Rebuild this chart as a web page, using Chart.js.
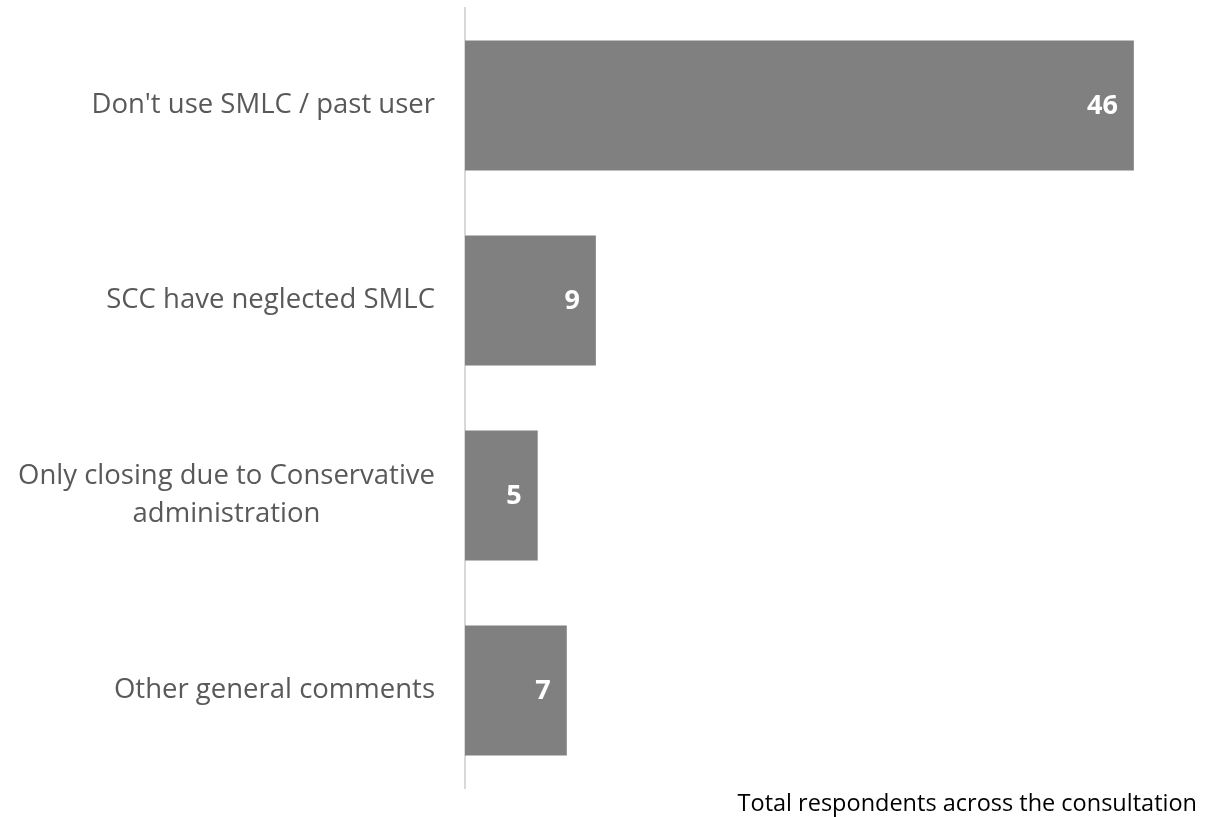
<!DOCTYPE html>
<html>
<head>
    <title>Respondent comments</title>
    <script src="https://cdn.jsdelivr.net/npm/chart.js"></script>
    <style>
        html, body { margin: 0; padding: 0; background: #fff; }
        #wrap { width: 1217px; height: 817px; position: relative; }
    </style>
</head>
<body>
    <div id="wrap"><canvas id="myChart"></canvas></div>
    <script>
        // data
        const categories = [
            "Don't use SMLC / past user",
            'SCC have neglected SMLC',
            ['Only closing due to Conservative', 'administration'],
            'Other general comments'
        ];
        const counts = [46, 9, 5, 7];
        const footTitle = 'Total respondents across the consultation';

        const fontFamily = "'Open Sans', 'Noto Sans', sans-serif";

        // category labels: block right-aligned to the axis, lines centred inside the block
        const catLabels = {
            id: 'catLabels',
            afterDraw(chart) {
                const ctx = chart.ctx;
                const yScale = chart.scales.y;
                const rightEdge = yScale.right - 30;
                const lineH = 38;
                ctx.save();
                ctx.fillStyle = '#595959';
                ctx.font = '27.5px ' + fontFamily;
                ctx.textAlign = 'center';
                ctx.textBaseline = 'middle';
                categories.forEach((label, i) => {
                    const lines = Array.isArray(label) ? label : [label];
                    const w = Math.max(...lines.map(l => ctx.measureText(l).width));
                    const cx = rightEdge - w / 2;
                    const cy = yScale.getPixelForTick(i);
                    lines.forEach((l, j) => {
                        ctx.fillText(l, cx, cy + (j - (lines.length - 1) / 2) * lineH);
                    });
                });
                ctx.restore();
            }
        };

        // white numbers inside the end of each bar
        const barLabels = {
            id: 'barLabels',
            afterDatasetsDraw(chart) {
                const ctx = chart.ctx;
                const meta = chart.getDatasetMeta(0);
                ctx.save();
                ctx.fillStyle = '#ffffff';
                ctx.font = 'bold 27px ' + fontFamily;
                ctx.textAlign = 'right';
                ctx.textBaseline = 'middle';
                meta.data.forEach((bar, i) => {
                    ctx.fillText(String(counts[i]), bar.x - 16, bar.y + 1);
                });
                ctx.restore();
            }
        };

        // caption at the bottom right
        const footNote = {
            id: 'footNote',
            afterDraw(chart) {
                const ctx = chart.ctx;
                ctx.save();
                ctx.fillStyle = '#000000';
                ctx.font = '23.5px ' + fontFamily;
                ctx.textAlign = 'right';
                ctx.textBaseline = 'alphabetic';
                ctx.fillText(footTitle, 1197, 811);
                ctx.restore();
            }
        };

        const ctx1 = document.getElementById('myChart').getContext('2d');
        new Chart(ctx1, {
            type: 'bar',
            data: {
                labels: categories,
                datasets: [{
                    data: counts,
                    backgroundColor: '#808080',
                    borderWidth: 0,
                    barPercentage: 0.667,
                    categoryPercentage: 1
                }]
            },
            options: {
                indexAxis: 'y',
                responsive: true,
                maintainAspectRatio: false,
                animation: false,
                layout: {
                    padding: { top: 8, bottom: 29, right: 25, left: 0 }
                },
                scales: {
                    x: {
                        display: false,
                        min: 0,
                        max: 50
                    },
                    y: {
                        grid: { display: false },
                        border: { display: true, color: '#d9d9d9', width: 2 },
                        ticks: { display: false },
                        afterFit(scale) {
                            scale.width = 465;
                            scale.paddingTop = 0;
                            scale.paddingBottom = 0;
                        }
                    }
                },
                plugins: {
                    legend: { display: false },
                    tooltip: { enabled: false }
                }
            },
            plugins: [catLabels, barLabels, footNote]
        });
    </script>
</body>
</html>
